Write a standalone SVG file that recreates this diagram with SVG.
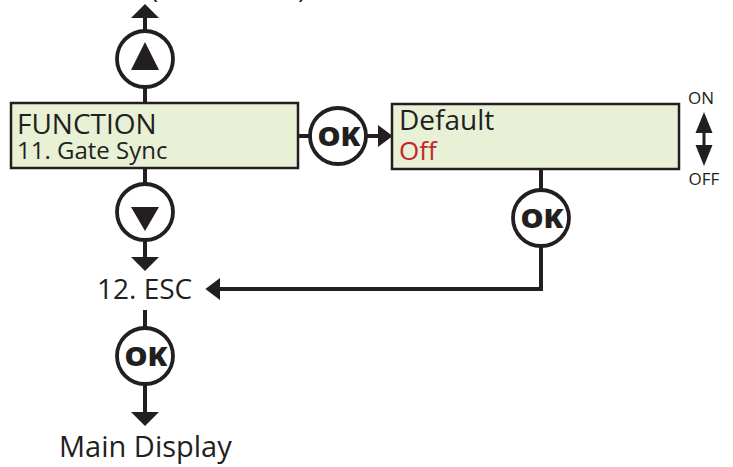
<svg xmlns="http://www.w3.org/2000/svg" width="733" height="467" viewBox="0 0 733 467">
<style>
  .box{fill:#e8f1d5;stroke:#231f20;stroke-width:2.5}
  .btn{fill:#fff;stroke:#231f20;stroke-width:3.8}
  .ln{fill:none;stroke:#231f20;stroke-width:4}
  .t{font-family:"Open Sans","Liberation Sans",sans-serif;fill:#231f20}
  .ok{font-family:"Open Sans","Liberation Sans",sans-serif;font-weight:800;font-size:26px;fill:#231f20;text-anchor:middle}
  .tri{fill:#231f20}
</style>
<defs>
  <marker id="aL" markerUnits="userSpaceOnUse" markerWidth="16" markerHeight="30" refX="0" refY="14" viewBox="0 0 16 28" orient="auto" overflow="visible">
    <path d="M0,0 L14,14 L0,28 z" fill="#231f20"/>
  </marker>
  <marker id="aS" markerUnits="userSpaceOnUse" markerWidth="16" markerHeight="22" refX="0" refY="10.5" viewBox="0 0 15 21" orient="auto" overflow="visible">
    <path d="M0,0 L14,10.5 L0,21 z" fill="#231f20"/>
  </marker>
  <marker id="aD" markerUnits="userSpaceOnUse" markerWidth="22" markerHeight="18" refX="0" refY="8.5" viewBox="0 0 22 17" orient="auto-start-reverse" overflow="visible">
    <path d="M0,0 L21,8.5 L0,17 z" fill="#231f20"/>
  </marker>
</defs>

<g id="top-label">
  <text class="t" x="150" y="-2" font-size="28">(</text>
  <text class="t" x="298" y="-2" font-size="28">)</text>
</g>

<g id="connectors">
  <path class="ln" d="M145 31 V18" marker-end="url(#aL)"/>
  <path class="ln" d="M145 102 V87"/>
  <path class="ln" d="M145 168 V184"/>
  <path class="ln" d="M145 240 V257" marker-end="url(#aL)"/>
  <path class="ln" d="M298 136 H310"/>
  <path class="ln" d="M366 136 H378" marker-end="url(#aS)"/>
  <path class="ln" d="M541 169 V190"/>
  <path class="ln" d="M541 246 V289 H220" marker-end="url(#aS)"/>
  <path class="ln" d="M145 310 V328"/>
  <path class="ln" d="M145 384 V412" marker-end="url(#aL)"/>
  <path d="M704 133 V145" fill="none" stroke="#231f20" stroke-width="3" marker-start="url(#aD)" marker-end="url(#aD)"/>
</g>

<g id="btn-up">
  <circle class="btn" cx="145" cy="59" r="28"/>
  <polygon class="tri" points="145,42 159,70 131,70"/>
</g>

<g id="function-box">
  <rect class="box" x="11" y="103" width="287" height="65"/>
  <text class="t" x="17" y="134" font-size="28">FUNCTION</text>
  <text class="t" x="17" y="159" font-size="24">11. Gate Sync</text>
</g>

<g id="btn-ok-mid">
  <circle class="btn" cx="338" cy="136" r="28"/>
  <text class="ok" x="339" y="146" textLength="43" lengthAdjust="spacingAndGlyphs">OK</text>
</g>

<g id="default-box">
  <rect class="box" x="392" y="104" width="287" height="65"/>
  <text class="t" x="399" y="130" font-size="28">Default</text>
  <text class="t" x="399" y="160" font-size="26" fill="#c1272d" style="fill:#c1272d">Off</text>
</g>

<g id="on-off">
  <text class="t" x="701" y="104" font-size="17" text-anchor="middle">ON</text>
  <text class="t" x="704" y="185" font-size="17" text-anchor="middle">OFF</text>
</g>

<g id="btn-ok-right">
  <circle class="btn" cx="541" cy="218" r="28"/>
  <text class="ok" x="542" y="228" textLength="43" lengthAdjust="spacingAndGlyphs">OK</text>
</g>

<g id="btn-down">
  <circle class="btn" cx="145" cy="212" r="28"/>
  <polygon class="tri" points="131,207 159,207 145,231"/>
</g>

<g id="esc">
  <text class="t" x="97" y="299" font-size="28">12. ESC</text>
</g>

<g id="btn-ok-bottom">
  <circle class="btn" cx="145" cy="356" r="28"/>
  <text class="ok" x="146" y="366" textLength="43" lengthAdjust="spacingAndGlyphs">OK</text>
</g>

<g id="main-display">
  <text class="t" x="59" y="457" font-size="29">Main Display</text>
</g>
</svg>
